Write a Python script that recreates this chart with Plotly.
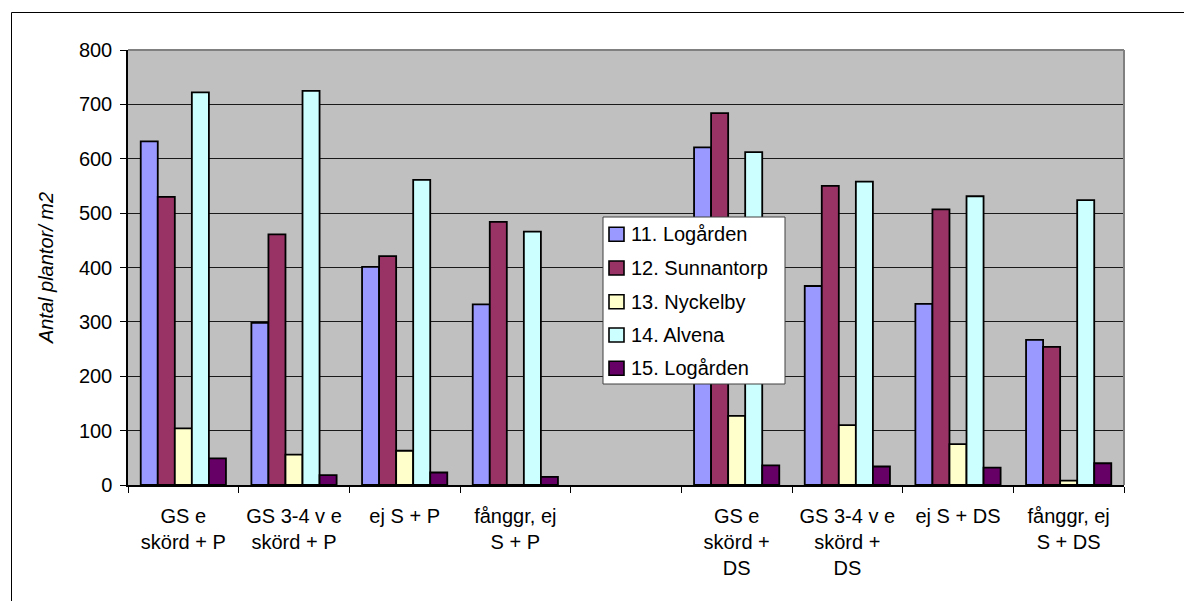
import plotly.graph_objects as go

# Treatment categories (the fifth slot is an intentional empty gap between the P and DS groups)
categories = [
    "GS e<br>skörd + P",
    "GS 3-4 v e<br>skörd + P",
    "ej S + P",
    "fånggr, ej<br>S + P",
    " ",
    "GS e<br>skörd +<br>DS",
    "GS 3-4 v e<br>skörd +<br>DS",
    "ej S + DS",
    "fånggr, ej<br>S + DS",
]

# Plants per m2 for each site
logarden_11 = [632, 298, 401, 332, None, 621, 366, 333, 267]
sunnantorp_12 = [530, 461, 421, 484, None, 684, 550, 507, 254]
nyckelby_13 = [104, 56, 63, 0, None, 127, 110, 75, 8]
alvena_14 = [722, 725, 561, 466, None, 612, 558, 531, 524]
logarden_15 = [49, 18, 23, 15, None, 36, 34, 32, 40]

series_names = ["11. Logården", "12. Sunnantorp", "13. Nyckelby", "14. Alvena", "15. Logården"]
series_values = [logarden_11, sunnantorp_12, nyckelby_13, alvena_14, logarden_15]
series_colors = ["#9999FF", "#993366", "#FFFFCC", "#CCFFFF", "#660066"]

y_ticks = [0, 100, 200, 300, 400, 500, 600, 700, 800]

FONT = "Liberation Sans, Arial, sans-serif"
W, H = 1184, 601
L, R, T, B = 128, 60, 50, 116
PW, PH = W - L - R, H - T - B


def px_x(px):
    return (px - L) / PW


def px_y(py):
    return (H - B - py) / PH


fig = go.Figure()
for name, vals, col in zip(series_names, series_values, series_colors):
    fig.add_trace(go.Bar(
        x=categories, y=vals, name=name,
        marker=dict(color=col, line=dict(color="#000000", width=1.8)),
        showlegend=False,
    ))

shapes = []
annotations = []

# Plot area top/right border in grey
shapes.append(dict(type="line", xref="paper", yref="paper", x0=0, x1=1, y0=1, y1=1,
                   line=dict(color="#808080", width=2), layer="above"))
shapes.append(dict(type="line", xref="paper", yref="paper", x0=1, x1=1, y0=0, y1=1,
                   line=dict(color="#808080", width=2), layer="above"))

# Outer chart frame (top and left edges)
shapes.append(dict(type="line", xref="paper", yref="paper", x0=px_x(11.5), x1=px_x(W + 20),
                   y0=px_y(12.5), y1=px_y(12.5), line=dict(color="#000000", width=1)))
shapes.append(dict(type="line", xref="paper", yref="paper", x0=px_x(11.5), x1=px_x(11.5),
                   y0=px_y(12.5), y1=px_y(H + 20), line=dict(color="#000000", width=1)))

# Legend box inside the plot
shapes.append(dict(type="rect", xref="paper", yref="paper",
                   x0=px_x(603), x1=px_x(785), y0=px_y(384), y1=px_y(217),
                   fillcolor="#FFFFFF", line=dict(color="#404040", width=1), layer="above"))
row_y = [234.3, 268.0, 301.7, 335.0, 368.3]
for name, col, ry in zip(series_names, series_colors, row_y):
    shapes.append(dict(type="rect", xref="paper", yref="paper",
                       x0=px_x(609), x1=px_x(624), y0=px_y(ry + 7), y1=px_y(ry - 7),
                       fillcolor=col, line=dict(color="#000000", width=1.6), layer="above"))
    annotations.append(dict(xref="paper", yref="paper", x=px_x(629), y=px_y(ry),
                            xanchor="left", yanchor="middle", text=name, showarrow=False,
                            font=dict(family=FONT, size=20, color="#000000")))

fig.update_layout(
    width=W, height=H,
    margin=dict(l=L, r=R, t=T, b=B, autoexpand=False),
    paper_bgcolor="#FFFFFF",
    plot_bgcolor="#C0C0C0",
    barmode="group",
    bargap=0.23,
    bargroupgap=0,
    font=dict(family=FONT, size=20, color="#000000"),
    shapes=shapes,
    annotations=annotations,
    showlegend=False,
)

fig.update_xaxes(
    type="category",
    tickson="boundaries",
    ticks="outside", ticklen=6, tickcolor="#000000", tickwidth=1,
    ticklabelstandoff=12,
    showline=True, linecolor="#000000", linewidth=1.5,
    showgrid=False,
    tickfont=dict(family=FONT, size=20, color="#000000"),
    automargin=False,
)

fig.update_yaxes(
    range=[0, 800],
    tickvals=y_ticks,
    ticktext=[str(v) for v in y_ticks],
    ticks="outside", ticklen=6, tickcolor="#000000", tickwidth=1,
    ticklabelstandoff=4,
    showline=True, linecolor="#000000", linewidth=1.5,
    showgrid=True, gridcolor="#1a1a1a", gridwidth=1,
    zeroline=False,
    tickfont=dict(family=FONT, size=20, color="#000000"),
    title=dict(text="<i>Antal plantor/ m2</i>", font=dict(family=FONT, size=20, color="#000000"),
               standoff=20),
    automargin=False,
)

fig.write_html("out.html")
